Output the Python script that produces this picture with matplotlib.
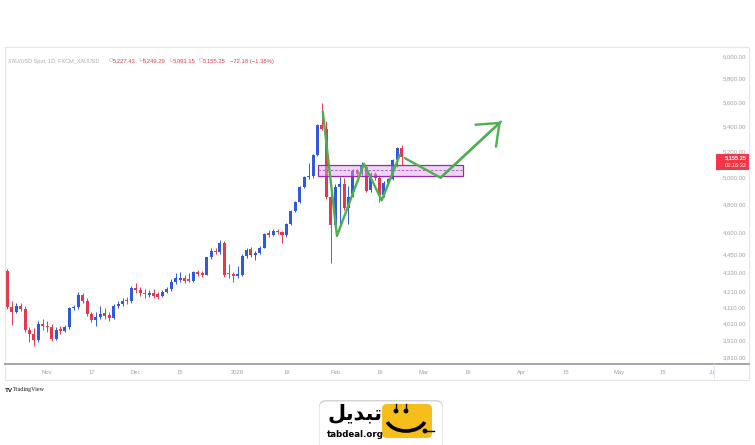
import numpy as np
import pandas as pd
import matplotlib
matplotlib.use('Agg')
import matplotlib.pyplot as plt
from matplotlib.patches import Rectangle, FancyBboxPatch, Arc, Circle

# daily XAU/USD candles, first bar on 2025-10-21
start = '2025-10-21'
opens = [4347, 4114, 4085, 4118, 4100, 3975, 3948, 3918, 4013, 3998,
         3990, 3923, 3980, 3970, 3990, 4106, 4117, 4190, 4155, 4071,
         4032, 4056, 4075, 4065, 4050, 4124, 4135, 4160, 4150, 4232,
         4222, 4205, 4190, 4200, 4195, 4185, 4210, 4225, 4276, 4288,
         4297, 4292, 4280, 4336, 4330, 4320, 4435, 4480, 4472, 4530,
         4330, 4325, 4310, 4318, 4444, 4490, 4450, 4465, 4500, 4600,
         4588, 4614, 4605, 4585, 4663, 4758, 4823, 4931, 5006, 5010,
         5175, 5414, 5380, 4860, 4656, 4930, 4955, 4775, 4880, 5052,
         5035, 5080, 4905, 5030, 4995, 4868, 4962, 4990, 5136, 5227.43]
highs = [4360, 4150, 4140, 4140, 4120, 3995, 3985, 4030, 4040, 4030,
         4010, 3992, 4000, 4002, 4115, 4130, 4210, 4205, 4170, 4085,
         4085, 4124, 4110, 4085, 4135, 4150, 4170, 4175, 4245, 4265,
         4240, 4230, 4220, 4225, 4210, 4220, 4240, 4290, 4330, 4335,
         4320, 4330, 4345, 4350, 4345, 4440, 4495, 4500, 4550, 4545,
         4390, 4340, 4377, 4455, 4500, 4505, 4480, 4510, 4600, 4621,
         4625, 4625, 4615, 4670, 4765, 4830, 4940, 5015, 5110, 5185,
         5425, 5600, 5450, 4900, 4950, 5005, 5000, 4935, 5065, 5070,
         5120, 5095, 5040, 5045, 5010, 4975, 5000, 5145, 5240, 5249.29]
lows = [4100, 4003, 4075, 4090, 3965, 3905, 3880, 3905, 3975, 3965,
        3912, 3915, 3950, 3960, 3982, 4095, 4100, 4140, 4060, 4020,
        4000, 4040, 4040, 4030, 4040, 4110, 4120, 4135, 4140, 4200,
        4185, 4170, 4175, 4170, 4165, 4175, 4200, 4215, 4260, 4270,
        4265, 4270, 4275, 4310, 4305, 4315, 4425, 4455, 4460, 4305,
        4300, 4275, 4300, 4310, 4430, 4440, 4420, 4455, 4495, 4575,
        4580, 4595, 4530, 4575, 4655, 4750, 4815, 4925, 4990, 5000,
        5165, 5370, 4840, 4395, 4640, 4656, 4760, 4660, 4860, 5010,
        5020, 4890, 4890, 4980, 4821, 4855, 4945, 4980, 5080, 5093.15]
closes = [4114, 4085, 4118, 4100, 3975, 3948, 3918, 4013, 3998, 3990,
          3923, 3972, 3970, 3990, 4106, 4117, 4190, 4155, 4071, 4032,
          4056, 4070, 4060, 4050, 4124, 4135, 4155, 4150, 4232, 4222,
          4200, 4195, 4200, 4185, 4180, 4210, 4230, 4276, 4297, 4298,
          4282, 4280, 4336, 4325, 4320, 4435, 4480, 4470, 4530, 4318,
          4322, 4310, 4325, 4444, 4484, 4450, 4465, 4500, 4591, 4588,
          4616, 4605, 4585, 4663, 4758, 4823, 4931, 5006, 5015, 5175,
          5414, 5380, 4860, 4656, 4934, 4955, 4775, 4860, 5052, 5030,
          5090, 4902, 5030, 4995, 4868, 4962, 4990, 5136, 5227.43, 5155.25]

price_ticks = [6000, 5800, 5600, 5400, 5200, 5000, 4800, 4600, 4450,
               4330, 4210, 4110, 4010, 3910, 3810]
date_ticks = ['2025-11-03', '2025-11-17', '2025-12-01', '2025-12-15', '2026-01-01',
              '2026-01-16', '2026-02-02', '2026-02-16', '2026-03-02', '2026-03-16',
              '2026-04-01', '2026-04-15', '2026-05-01', '2026-05-15', '2026-06-01']
date_labels = ['Nov', '17', 'Dec', '15', '2026', '16', 'Feb', '16', 'Mar', '16',
               'Apr', '15', 'May', '15', 'Ju']

# drawings (bar index, price)
zig_x = [71.2, 74.4, 80.5, 84.5, 88.6]
zig_y = [5525, 4580, 5106, 4832, 5175]
arr_x = [89.7, 97.8, 111.4]
arr_y = [5150, 5000, 5441]
zone_x = [70.2, 102.9]
zone_y = [5016, 5097]

UP = '#2e5bdb'
DOWN = '#e5394b'
GRAY = '#9ea1a9'

W, H = 755, 445
fig = plt.figure(figsize=(W / 100, H / 100), dpi=100)
fig.patch.set_facecolor('white')

ax = fig.add_axes([5 / W, 81 / H, 744 / W, 317 / H])
ax.set_facecolor('none')
for s in ax.spines.values():
    s.set_visible(False)

o = np.array(opens); h = np.array(highs); l = np.array(lows); c = np.array(closes)
idx = np.arange(len(o))
cols = np.where(c >= o, UP, DOWN)
ax.vlines(idx, l, h, colors=cols, lw=0.7, zorder=2)
ax.bar(idx, np.abs(c - o), bottom=np.minimum(o, c), width=0.68, color=cols, zorder=3)

ax.set_yscale('log')
ax.set_ylim(3776, 6089)
ax.set_xlim(-0.52, 167.4)
ax.set_yticks([])
ax.minorticks_off()
ax.set_xticks([])

d0 = np.datetime64(start)
tick_pos = [np.busday_count(d0, np.datetime64(d)) for d in date_ticks]

# price scale labels inside the pane
for p in price_ticks:
    ax.text(0.996, p, f'{p:,.2f}', transform=ax.get_yaxis_transform(), ha='right',
            va='center', fontsize=4.3, color=GRAY, family='Liberation Sans')

# zone rectangle
ax.add_patch(Rectangle((zone_x[0], zone_y[0]), zone_x[1] - zone_x[0], zone_y[1] - zone_y[0],
                       facecolor='#d9a6e6', alpha=0.45, edgecolor='none', zorder=4))
ax.add_patch(Rectangle((zone_x[0], zone_y[0]), zone_x[1] - zone_x[0], zone_y[1] - zone_y[0],
                       facecolor='none', edgecolor='#9c27b0', lw=0.9, zorder=4))
mid = np.sqrt(zone_y[0] * zone_y[1])
ax.plot(zone_x, [mid, mid], color='#b04cc4', lw=0.6, ls=(0, (3, 2)), zorder=4)

# green path and arrow
ax.plot(zig_x, zig_y, color='#4caf50', lw=1.7, zorder=5, solid_capstyle='round')
ax.plot(arr_x, arr_y, color='#4caf50', lw=1.7, zorder=5, solid_capstyle='round')
ax.annotate('', xy=(arr_x[-1], arr_y[-1]), xytext=(arr_x[-2], arr_y[-2]),
            arrowprops=dict(arrowstyle='->,head_length=0.75,head_width=0.6', color='#4caf50',
                            lw=1.7, mutation_scale=18, shrinkA=0, shrinkB=0), zorder=5)

# overlay in pixel coordinates for chrome
ov = fig.add_axes([0, 0, 1, 1], zorder=10)
ov.set_xlim(0, W)
ov.set_ylim(H, 0)
ov.axis('off')
ov.patch.set_alpha(0)

# last price tag, first line level with the last close
last = closes[-1]
y_last = H - ax.transData.transform((0, last))[1]
ov.add_patch(Rectangle((716, y_last - 3.5), 33, 16, facecolor='#f23645', edgecolor='none'))
ov.text(747, y_last + 0.5, f'{last:,.2f}', ha='right', va='center', fontsize=4.1,
        color='white', fontweight='bold', family='Liberation Sans')
ov.text(747, y_last + 8, '02:16:32', ha='right', va='center', fontsize=4.1,
        color='white', family='Liberation Sans')

ov.add_patch(Rectangle((5, 47), 744, 333, facecolor='none', edgecolor='#e3e5ea', lw=0.8))
ov.plot([5, 749], [364, 364], color='#9b9db4', lw=1.3)
ov.plot([714, 714], [364, 380], color='#e3e5ea', lw=0.6)

for pos, lab in zip(tick_pos, date_labels):
    xp = 7.3 + 4.43 * pos
    ov.text(xp, 372.5, lab, ha='center', va='center', fontsize=4.2, color=GRAY,
            family='Liberation Sans')

# header line
ov.text(8, 61, 'XAU/USD Spot, 1D, FXCM_XAUUSD', ha='left', va='center', fontsize=4.0,
        color='#a7aab2', family='Liberation Sans')
hdr = [(109, 'O', '5,227.43'), (139, 'H', '5,249.29'), (169, 'L', '5,093.15'),
       (199, 'C', '5,155.25')]
for xp, k, v in hdr:
    ov.text(xp, 61, k, ha='left', va='center', fontsize=4.2, color='#a7aab2',
            family='Liberation Sans')
    ov.text(xp + 3.5, 61, v, ha='left', va='center', fontsize=4.2, color='#e5394b',
            family='Liberation Sans')
ov.text(230, 61, '\u221272.18 (\u22121.38%)', ha='left', va='center', fontsize=4.2,
        color='#e5394b', family='Liberation Sans')

ov.text(5, 390, 'TV', ha='left', va='center', fontsize=4.5, color='#131722',
        fontweight='bold', family='Liberation Sans')
ov.text(13, 390, 'TradingView', ha='left', va='center', fontsize=4.3, color='#131722',
        family='Liberation Serif')

# tabdeal logo card
ov.add_patch(FancyBboxPatch((319, 400), 124, 52, boxstyle='round,pad=0,rounding_size=7',
                            facecolor='#d4d4d4', edgecolor='none'))
ov.add_patch(FancyBboxPatch((319.5, 401.5), 123, 52, boxstyle='round,pad=0,rounding_size=7',
                            facecolor='white', edgecolor='none'))
ov.text(355, 413, '\ufede\ufef3\ufeaa\ufe92\ufe97', ha='center', va='center', fontsize=15,
        color='black', fontweight='bold', family=['DejaVu Sans'])
ov.text(355.5, 434.5, 'tabdeal.org', ha='center', va='center', fontsize=6.2,
        color='black', fontweight='bold', family='DejaVu Sans')
ov.add_patch(FancyBboxPatch((382, 404), 50, 34, boxstyle='round,pad=0,rounding_size=5',
                            facecolor='#f6be1a', edgecolor='none'))
ov.add_patch(Arc((406, 417), 40, 28, theta1=15, theta2=165, color='black', lw=2.6))
ov.plot([396, 396], [404, 410], color='black', lw=1.0)
ov.plot([406, 406], [404, 410], color='black', lw=1.0)
ov.add_patch(Circle((396, 411), 1.7, color='black'))
ov.add_patch(Circle((406, 411), 1.7, color='black'))
ov.plot([424, 434], [431, 431], color='black', lw=1.0)
ov.add_patch(Circle((425, 431), 1.7, color='black'))

fig.savefig('out.png', dpi=100, facecolor='white')
